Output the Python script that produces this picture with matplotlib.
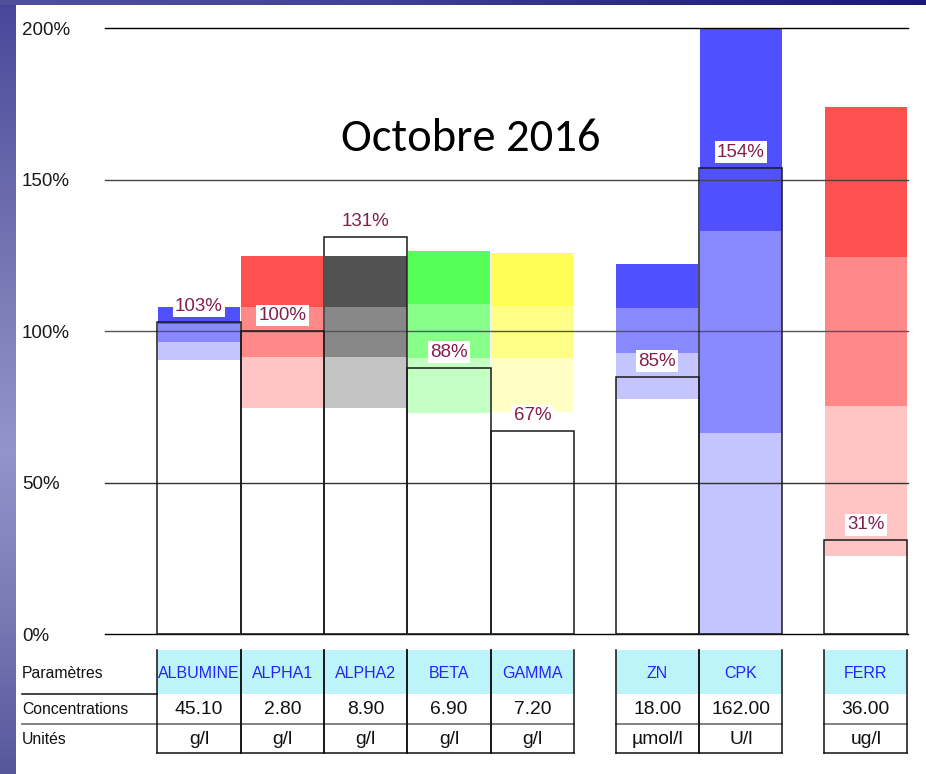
import numpy as np
import matplotlib
matplotlib.use("Agg")
import matplotlib.pyplot as plt
from matplotlib import font_manager
from matplotlib.transforms import blended_transform_factory
from matplotlib.patches import Rectangle
from matplotlib.colors import to_rgb

# ---------------- data ----------------
categories = ["ALBUMINE", "ALPHA1", "ALPHA2", "BETA", "GAMMA", "ZN", "CPK", "FERR"]
measured = [103, 100, 131, 88, 67, 85, 154, 31]
band_low = [90.5, 74.8, 74.8, 72.9, 73.5, 77.6, 0.0, 25.8]
band_mid1 = [96.6, 91.4, 91.4, 91.3, 91.3, 92.7, 66.5, 75.3]
band_mid2 = [102.3, 108.1, 108.1, 109.0, 108.4, 107.6, 133.2, 124.6]
band_high = [107.9, 124.9, 124.9, 126.6, 125.7, 122.2, 200.0, 173.9]
concentrations = ["45.10", "2.80", "8.90", "6.90", "7.20", "18.00", "162.00", "36.00"]
units = ["g/l", "g/l", "g/l", "g/l", "g/l", "µmol/l", "U/l", "ug/l"]
row_labels = ["Paramètres", "Concentrations", "Unités"]
y_ticks = [0, 50, 100, 150, 200]
y_tick_labels = ["0%", "50%", "100%", "150%", "200%"]
title = "Octobre 2016"

# ---------------- layout / style ----------------
slot_left = [0, 1, 2, 3, 4, 5.5, 6.5, 8]
families = ["blue", "red", "grey", "green", "yellow", "blue", "blue", "red"]
palette = {
    "blue": ("#c4c4ff", "#8888ff", "#5050ff"),
    "red": ("#ffc4c4", "#ff8888", "#ff5050"),
    "grey": ("#c4c4c4", "#888888", "#525252"),
    "green": ("#c4ffc4", "#88ff88", "#55ff55"),
    "yellow": ("#ffffc4", "#ffff88", "#ffff55"),
}

def has_font(name):
    try:
        font_manager.findfont(font_manager.FontProperties(family=name), fallback_to_default=False)
        return True
    except Exception:
        return False

SANS = "Liberation Sans"
NARROW = "Liberation Sans Narrow" if has_font("Liberation Sans Narrow") else "Liberation Sans"
narrow_size = 12.8 if NARROW != "Liberation Sans" else 11.3
TITLE_FONT = "Carlito" if has_font("Carlito") else "Lato"
title_size = 33.5 if TITLE_FONT == "Carlito" else 33

W, H = 926, 774
fig = plt.figure(figsize=(W / 100, H / 100), dpi=100)
fig.patch.set_facecolor("white")

# background overlay in pixel coordinates
bg = fig.add_axes([0, 0, 1, 1], zorder=-5)
bg.set_xlim(0, W)
bg.set_ylim(H, 0)
bg.axis("off")

def grad(anchors, n):
    pos = np.array([a[0] for a in anchors], float)
    cols = np.array([to_rgb(a[1]) for a in anchors])
    t = np.linspace(pos[0], pos[-1], n)
    return np.stack([np.interp(t, pos, cols[:, k]) for k in range(3)], axis=-1)

left_grad = grad([(0, "#47479a"), (250, "#7474b2"), (450, "#9494cc"), (620, "#7878b4"), (774, "#56569c")], 400)
bg.imshow(left_grad[:, None, :], extent=(0, 16, H, 0), aspect="auto", interpolation="bilinear", zorder=1)
top_grad = grad([(0, "#50509e"), (320, "#454597"), (600, "#2e2e86"), (926, "#1a1a78")], 400)
bg.imshow(top_grad[None, :, :], extent=(0, W, 5, 0), aspect="auto", interpolation="bilinear", zorder=1)

# main axes
ax_l, ax_r, ax_t, ax_b = 105, 908.3, 28.3, 634.3
ax = fig.add_axes([ax_l / W, 1 - ax_b / H, (ax_r - ax_l) / W, (ax_b - ax_t) / H], zorder=1)
ax.set_facecolor("none")
ax.set_xlim(-0.628, 9.01)
ax.set_ylim(0, 200)
for s in ax.spines.values():
    s.set_visible(False)
ax.set_xticks([])
ax.set_yticks(y_ticks)
ax.set_yticklabels(y_tick_labels, ha="left", fontsize=13.5, family=SANS, color="#1a1a1a")
ax.tick_params(axis="y", length=0, pad=(ax_l - 22) * 0.72)

xs = np.array(slot_left) + 0.5
lows = np.array(band_low)
m1 = np.array(band_mid1)
m2 = np.array(band_mid2)
highs = np.array(band_high)
light = [palette[f][0] for f in families]
medium = [palette[f][1] for f in families]
dark = [palette[f][2] for f in families]

ax.bar(xs, m1 - lows, bottom=lows, width=0.985, color=light, zorder=1, linewidth=0)
ax.bar(xs, m2 - m1, bottom=m1, width=0.985, color=medium, zorder=1, linewidth=0)
ax.bar(xs, highs - m2, bottom=m2, width=0.985, color=dark, zorder=1, linewidth=0)

grid_cols = {0: "#000000", 50: "#333333", 100: "#555555", 150: "#444444", 200: "#000000"}
for yv in y_ticks:
    ax.axhline(yv, color=grid_cols[yv], lw=1.0, zorder=2, clip_on=False)

ax.bar(xs, measured, width=1.0, fill=False, edgecolor="#1a1a1a", linewidth=1.1, zorder=3, clip_on=False)
for x, v in zip(xs, measured):
    ax.annotate(f"{v}%", (x, v), xytext=(0, 11.2), textcoords="offset points",
                ha="center", va="center", fontsize=13.5, family=SANS, color="#82204c",
                bbox=dict(boxstyle="square,pad=0.12", fc="white", ec="none"), zorder=5)

# title
bg.text(470.5, 151, title, ha="center", va="baseline", fontsize=title_size, family=TITLE_FONT, color="black")

# ---------------- table ----------------
tr = blended_transform_factory(ax.transData, bg.transData)
y_top, y_r1, y_r2, y_bot = 650, 694.3, 724, 753.3
cyan = "#bdf4fa"
for x0, name, conc, unit in zip(slot_left, categories, concentrations, units):
    ax.add_patch(Rectangle((x0, y_top), 1, y_r1 - y_top, transform=tr, facecolor=cyan,
                           edgecolor="none", clip_on=False, zorder=1))
    ax.text(x0 + 0.5, 673, name, transform=tr, ha="center", va="center", fontsize=11.5,
            family=SANS, color="#2424ff", clip_on=False)
    ax.text(x0 + 0.5, 710, conc, transform=tr, ha="center", va="center", fontsize=13.9,
            family=SANS, color="#111111", clip_on=False)
    ax.text(x0 + 0.5, 739.5, unit, transform=tr, ha="center", va="center", fontsize=13.9,
            family=SANS, color="#111111", clip_on=False)
    ax.plot([x0, x0 + 1], [y_r2, y_r2], transform=tr, color="#777777", lw=1.3, clip_on=False, zorder=2)
    ax.plot([x0, x0 + 1], [y_bot, y_bot], transform=tr, color="#111111", lw=1.1, clip_on=False, zorder=2)
    for xe in (x0, x0 + 1):
        ax.plot([xe, xe], [y_top, y_bot], transform=tr, color="#111111", lw=1.1, clip_on=False, zorder=3)

# row labels and their separator lines
x_left = ax.transData.inverted().transform(bg.transData.transform((22, 0)))[0]
for lbl, yc in zip(row_labels, [673, 710, 739.5]):
    bg.text(22, yc, lbl, ha="left", va="center", fontsize=narrow_size, family=NARROW, color="#111111")
ax.plot([x_left, 0], [y_r1, y_r1], transform=tr, color="#111111", lw=1.1, clip_on=False)
ax.plot([x_left, 0], [y_r2, y_r2], transform=tr, color="#777777", lw=1.3, clip_on=False)

fig.savefig("out.png", dpi=100, facecolor="white")
